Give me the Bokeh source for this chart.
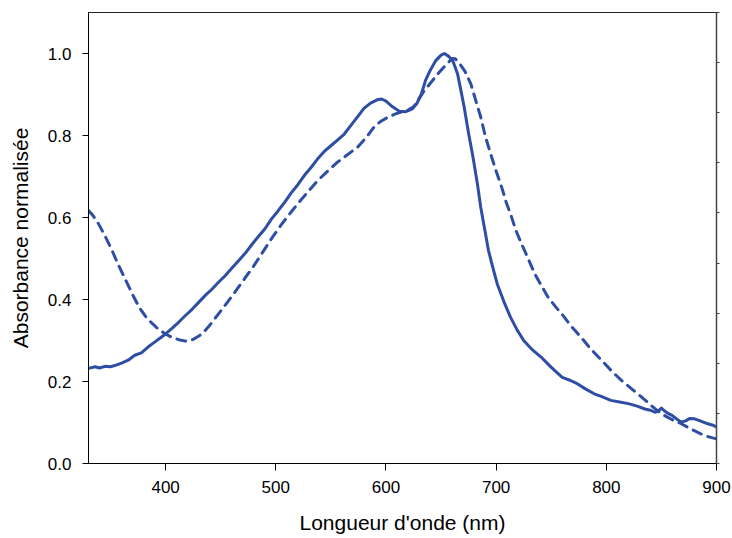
from bokeh.plotting import figure
from bokeh.models import Range1d, LinearAxis, FixedTicker, NumeralTickFormatter, CustomJSTickFormatter
from bokeh.embed import file_html
from bokeh.resources import INLINE

# Solid curve (wavelength nm, normalised absorbance)
wl_solid = [330, 336, 340, 345, 350, 355, 360, 366, 372, 378, 384, 390, 396, 400, 406, 412, 418,
            424, 430, 436, 442, 448, 454, 460, 466, 472, 478, 484, 490, 496, 502, 508, 514, 520,
            526, 532, 538, 544, 550, 556, 562, 568, 574, 580, 586, 592, 596, 600, 606, 612, 618,
            624, 628, 632, 636, 640, 645, 650, 653, 657, 661, 665, 668, 671, 675, 679, 683, 686,
            690, 693, 697, 701, 707, 713, 719, 725, 733, 741, 748, 753, 760, 767, 774, 781, 789,
            796, 804, 812, 820, 828, 835, 840, 844, 847, 850, 853, 856, 860, 864, 868, 872, 876,
            880, 884, 888, 892, 896, 900]
abs_solid = [0.232, 0.236, 0.233, 0.237, 0.236, 0.240, 0.245, 0.252, 0.264, 0.270, 0.284, 0.296,
             0.308, 0.316, 0.330, 0.345, 0.361, 0.376, 0.393, 0.410, 0.425, 0.442, 0.458, 0.476,
             0.494, 0.512, 0.533, 0.553, 0.572, 0.596, 0.616, 0.637, 0.660, 0.680, 0.703, 0.722,
             0.743, 0.761, 0.775, 0.789, 0.803, 0.824, 0.845, 0.866, 0.879, 0.887, 0.889, 0.884,
             0.870, 0.859, 0.858, 0.865, 0.878, 0.900, 0.935, 0.958, 0.982, 0.996, 1.000, 0.993,
             0.980, 0.950, 0.910, 0.869, 0.805, 0.747, 0.682, 0.625, 0.565, 0.520, 0.478, 0.438,
             0.395, 0.357, 0.326, 0.300, 0.277, 0.259, 0.240, 0.227, 0.210, 0.203, 0.194, 0.182,
             0.170, 0.163, 0.154, 0.150, 0.146, 0.140, 0.133, 0.130, 0.125, 0.128, 0.135, 0.128,
             0.122, 0.117, 0.108, 0.101, 0.104, 0.110, 0.109, 0.105, 0.101, 0.097, 0.094, 0.089]

# Dashed curve
wl_dashed = [330, 334, 339, 345, 351, 357, 364, 370, 376, 382, 388, 394, 400, 406, 412, 417, 421,
             426, 433, 440, 448, 456, 464, 472, 480, 488, 497, 506, 515, 522, 530, 538, 547, 556,
             565, 574, 582, 589, 595, 602, 608, 614, 620, 625, 630, 635, 641, 647, 653, 660, 663,
             667, 672, 677, 681, 686, 690, 695, 700, 705, 709, 714, 718, 723, 729, 735, 741, 747,
             754, 761, 768, 777, 786, 796, 805, 814, 823, 832, 841, 850, 859, 868, 877, 886, 893,
             900]
abs_dashed = [0.617, 0.605, 0.585, 0.555, 0.522, 0.485, 0.446, 0.412, 0.381, 0.358, 0.341, 0.326,
              0.316, 0.307, 0.302, 0.299, 0.298, 0.304, 0.316, 0.337, 0.365, 0.393, 0.422, 0.452,
              0.482, 0.515, 0.552, 0.586, 0.617, 0.640, 0.665, 0.690, 0.713, 0.735, 0.753, 0.771,
              0.795, 0.820, 0.834, 0.845, 0.852, 0.857, 0.862, 0.870, 0.890, 0.910, 0.930, 0.950,
              0.968, 0.988, 0.987, 0.975, 0.955, 0.926, 0.890, 0.845, 0.800, 0.755, 0.713, 0.674,
              0.638, 0.601, 0.568, 0.536, 0.500, 0.463, 0.434, 0.406, 0.382, 0.360, 0.335, 0.308,
              0.279, 0.251, 0.225, 0.202, 0.182, 0.162, 0.141, 0.121, 0.108, 0.097, 0.084, 0.072,
              0.065, 0.060]

x_ticks = [400, 500, 600, 700, 800, 900]
y_ticks = [0.0, 0.2, 0.4, 0.6, 0.8, 1.0]

COLOR = "#2E4DA5"
FONT = "Liberation Sans"

p = figure(width=732, height=538, output_backend="svg", toolbar_location=None,
           x_range=Range1d(330, 900), y_range=Range1d(0, 1.1),
           min_border_left=88, min_border_right=16, min_border_top=12, min_border_bottom=75)

p.line(wl_solid, abs_solid, line_color=COLOR, line_width=3, line_join="round")
p.line(wl_dashed, abs_dashed, line_color=COLOR, line_width=3, line_dash="9 7", line_cap="round")

p.xgrid.visible = False
p.ygrid.visible = False
p.outline_line_color = "#222222"
p.outline_line_width = 1

xa = p.xaxis[0]
xa.ticker = FixedTicker(ticks=x_ticks)
xa.axis_label = "Longueur d'onde (nm)"
xa.axis_label_text_font = FONT
xa.axis_label_text_font_style = "normal"
xa.axis_label_text_font_size = "21px"
xa.axis_label_text_color = "black"
xa.axis_label_standoff = 15
xa.major_label_text_font = FONT
xa.major_label_text_font_size = "17px"
xa.major_label_text_color = "black"
xa.major_label_standoff = 10
xa.major_tick_out = 7
xa.major_tick_in = 0
xa.minor_tick_out = 0
xa.minor_tick_in = 0
xa.axis_line_color = "black"
xa.major_tick_line_color = "black"

ya = p.yaxis[0]
ya.ticker = FixedTicker(ticks=y_ticks)
ya.formatter = NumeralTickFormatter(format="0.0")
ya.axis_label = "Absorbance normalisée"
ya.axis_label_text_font = FONT
ya.axis_label_text_font_style = "normal"
ya.axis_label_text_font_size = "21px"
ya.axis_label_text_color = "black"
ya.axis_label_standoff = 13
ya.major_label_text_font = FONT
ya.major_label_text_font_size = "17px"
ya.major_label_text_color = "black"
ya.major_label_standoff = 11
ya.major_tick_out = 6
ya.major_tick_in = 0
ya.minor_tick_out = 0
ya.minor_tick_in = 0
ya.axis_line_color = "black"
ya.major_tick_line_color = "black"

# right-hand axis with small unlabeled ticks
p.extra_y_ranges = {"r": Range1d(0, 9)}
ra = LinearAxis(y_range_name="r", ticker=FixedTicker(ticks=list(range(10))),
                formatter=CustomJSTickFormatter(code="return ''"))
ra.major_tick_out = 3
ra.major_tick_in = 0
ra.minor_tick_out = 0
ra.minor_tick_in = 0
ra.major_label_standoff = 0
ra.axis_line_color = "#444444"
ra.axis_line_width = 1.5
ra.major_tick_line_color = "#444444"
p.add_layout(ra, "right")

open("out.html", "w").write(file_html(p, INLINE))
